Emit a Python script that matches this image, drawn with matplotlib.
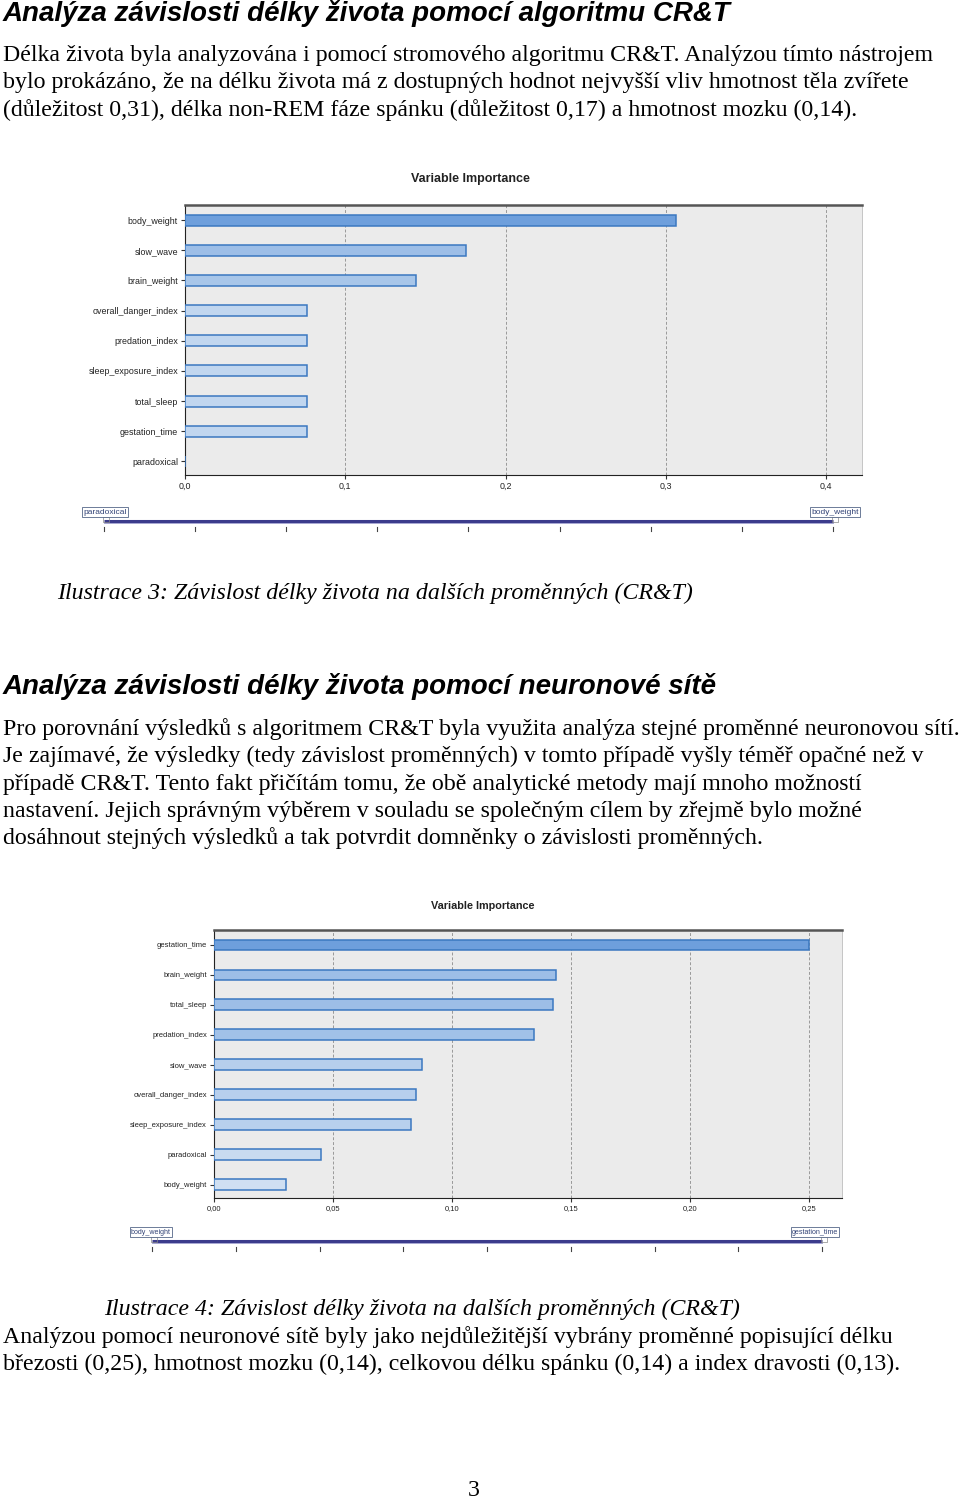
import matplotlib
matplotlib.use("Agg")
import matplotlib.pyplot as plt
import numpy as np
from matplotlib.colors import to_rgb

# --- data -------------------------------------------------------------
crt_names = ["body_weight", "slow_wave", "brain_weight", "overall_danger_index",
             "predation_index", "sleep_exposure_index", "total_sleep",
             "gestation_time", "paradoxical"]
crt_values = [0.306, 0.175, 0.144, 0.076, 0.076, 0.076, 0.076, 0.076, 0.0]
crt_ticks = [0.0, 0.1, 0.2, 0.3, 0.4]
crt_ticklabels = ["0,0", "0,1", "0,2", "0,3", "0,4"]

nn_names = ["gestation_time", "brain_weight", "total_sleep", "predation_index",
            "slow_wave", "overall_danger_index", "sleep_exposure_index",
            "paradoxical", "body_weight"]
nn_values = [0.250, 0.1437, 0.1424, 0.1345, 0.0874, 0.0849, 0.0828, 0.0451, 0.0302]
nn_ticks = [0.0, 0.05, 0.10, 0.15, 0.20, 0.25]
nn_ticklabels = ["0,00", "0,05", "0,10", "0,15", "0,20", "0,25"]

heading1 = "Analýza závislosti délky života pomocí algoritmu CR&T"
para1 = ["Délka života byla analyzována i pomocí stromového algoritmu CR&T. Analýzou tímto nástrojem",
         "bylo prokázáno, že na délku života má z dostupných hodnot nejvyšší vliv hmotnost těla zvířete",
         "(důležitost 0,31), délka non-REM fáze spánku (důležitost 0,17) a hmotnost mozku (0,14)."]
caption3 = "Ilustrace 3: Závislost délky života na dalších proměnných (CR&T)"
heading2 = "Analýza závislosti délky života pomocí neuronové sítě"
para2 = ["Pro porovnání výsledků s algoritmem CR&T byla využita analýza stejné proměnné neuronovou sítí.",
         "Je zajímavé, že výsledky (tedy závislost proměnných) v tomto případě vyšly téměř opačné než v",
         "případě CR&T. Tento fakt přičítám tomu, že obě analytické metody mají mnoho možností",
         "nastavení. Jejich správným výběrem v souladu se společným cílem by zřejmě bylo možné",
         "dosáhnout stejných výsledků a tak potvrdit domněnky o závislosti proměnných."]
caption4 = "Ilustrace 4: Závislost délky života na dalších proměnných (CR&T)"
para3 = ["Analýzou pomocí neuronové sítě byly jako nejdůležitější vybrány proměnné popisující délku",
         "březosti (0,25), hmotnost mozku (0,14), celkovou délku spánku (0,14) a index dravosti (0,13)."]
page_no = "3"

W, H = 960, 1499
fig = plt.figure(figsize=(W / 100, H / 100), dpi=100)
fig.patch.set_facecolor("white")

serif = "Liberation Serif"
sans = "Liberation Sans"
BODY = 17.2
HEAD = 20


def fy(y):
    return 1 - y / H


def px_axes(x0, y0, x1, y1):
    return fig.add_axes([x0 / W, 1 - y1 / H, (x1 - x0) / W, (y1 - y0) / H])


def text_at(x, y, s, **kw):
    fig.text(x / W, fy(y), s, va="baseline", ha="left", **kw)


def importance(ax, names, values, xmax, ticks, ticklabels, fs):
    light = np.array(to_rgb("#dce8f5"))
    dark = np.array(to_rgb("#6e9fdc"))
    vmax = max(values)
    y = np.arange(len(names))
    colors = [light + (dark - light) * (v / vmax) for v in values]
    ax.set_facecolor("#ebebeb")
    ax.barh(y, values, height=0.36, color=colors, edgecolor="#3b78c0", linewidth=1.1, zorder=3)
    ax.set_yticks(y)
    ax.set_yticklabels(names, fontsize=fs, family=sans, color="#222222")
    ax.set_ylim(len(names) - 0.55, -0.5)
    ax.set_xlim(0, xmax)
    ax.set_xticks(ticks)
    ax.set_xticklabels(ticklabels, fontsize=fs, family=sans, color="#222222")
    ax.tick_params(axis="both", length=3, width=0.8, color="#333333", pad=2)
    for t in ticks[1:]:
        ax.axvline(t, color="#999999", lw=0.7, ls=(0, (3, 2)), zorder=1)
    ax.spines["left"].set_color("#222222")
    ax.spines["bottom"].set_color("#222222")
    ax.spines["top"].set_color("#555555")
    ax.spines["top"].set_linewidth(1.8)
    ax.spines["right"].set_color("#bbbbbb")
    ax.spines["right"].set_linewidth(0.6)
    return ax


def slider(x0, x1, y, left_label, right_label, lx, rx, fs):
    sax = px_axes(x0 - 30, y - 14, x1 + 30, y + 14)
    sax.set_xlim(x0 - 30, x1 + 30)
    sax.set_ylim(y + 14, y - 14)
    sax.axis("off")
    sax.plot([x0, x1], [y, y], color="#3c3c8c", lw=2.2, solid_capstyle="butt")
    sax.plot([x0, x1], [y + 1.5, y + 1.5], color="#9999cc", lw=0.6)
    for tx in np.linspace(x0, x1, 9):
        sax.plot([tx, tx], [y + 6, y + 10], color="#444444", lw=0.8)
    for lab, xx, ha in [(left_label, lx, "left"), (right_label, rx, "right")]:
        sax.text(xx, y - 9, lab, fontsize=fs, family=sans, color="#334477",
                 ha=ha, va="center",
                 bbox=dict(boxstyle="square,pad=0.15", fc="white", ec="#556688", lw=0.6))
    for xx in (x0 + 2, x1 + 2):
        sax.plot([xx - 3, xx + 3, xx + 3, xx - 3, xx - 3], [y - 4, y - 4, y + 1, y + 1, y - 4],
                 color="#888888", lw=0.5)


# ---------------- page text ----------------
text_at(3, 21, heading1, fontsize=HEAD, family=sans, weight="bold", style="italic")
for i, line in enumerate(para1):
    text_at(3, 61 + i * 27.3, line, fontsize=BODY, family=serif)

fig.text(470 / W, fy(182), "Variable Importance", fontsize=9, family=sans,
         weight="bold", ha="center", va="baseline", color="#222222")
ax1 = px_axes(185, 205, 862, 475)
importance(ax1, crt_names, crt_values, 0.4223, crt_ticks, crt_ticklabels, 6.4)
slider(104, 833, 521, "paradoxical", "body_weight", 83, 859, 6)

text_at(57, 599, caption3, fontsize=BODY, family=serif, style="italic")

text_at(3, 694, heading2, fontsize=HEAD, family=sans, weight="bold", style="italic")
for i, line in enumerate(para2):
    text_at(3, 735 + i * 27.3, line, fontsize=BODY, family=serif)

fig.text(483 / W, fy(909), "Variable Importance", fontsize=7.8, family=sans,
         weight="bold", ha="center", va="baseline", color="#222222")
ax2 = px_axes(214, 930, 842, 1198)
importance(ax2, nn_names, nn_values, 0.2639, nn_ticks, nn_ticklabels, 5.5)
slider(152, 822, 1241, "body_weight", "gestation_time", 131, 838, 5.1)

text_at(104, 1315, caption4, fontsize=BODY, family=serif, style="italic")
for i, line in enumerate(para3):
    text_at(3, 1343 + i * 27.3, line, fontsize=BODY, family=serif)

fig.text(474 / W, fy(1496), page_no, fontsize=BODY, family=serif, ha="center", va="baseline")

fig.savefig("out.png", dpi=100)
